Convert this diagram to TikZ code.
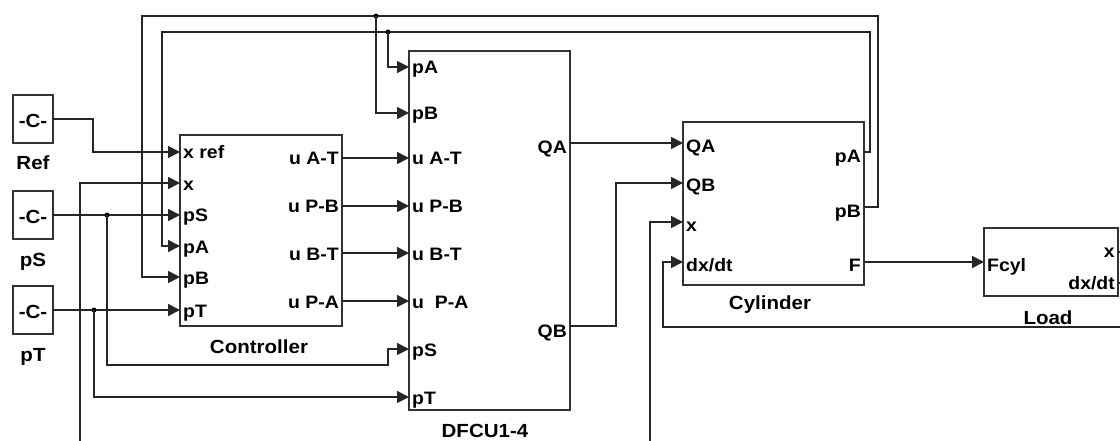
\documentclass[tikz,border=0pt]{standalone}
\usepackage{fontspec}
\setmainfont{Liberation Sans}[FakeStretch=1.08]
\usetikzlibrary{arrows.meta,calc}
\begin{document}
\begin{tikzpicture}[x=1pt,y=-1pt,
 blk/.style={draw=black!80, line width=1.9pt, inner sep=0, outer sep=0, rectangle},
 wire/.style={draw=black!85, line width=1.7pt, -{Triangle[length=12pt,width=12pt]}},
 plainwire/.style={draw=black!85, line width=1.7pt},
 pl/.style={font=\fontsize{18}{18}\bfseries\selectfont, inner sep=0, anchor=base west, text=black},
 pr/.style={font=\fontsize{18}{18}\bfseries\selectfont, inner sep=0, anchor=base east, text=black},
 bl/.style={font=\fontsize{19}{19}\bfseries\selectfont, inner sep=0, text=black},
 jdot/.style={circle, fill=black, inner sep=0, minimum size=5pt}
]
\useasboundingbox (0,0) rectangle (1120,441);

% ---------- blocks ----------
\node[blk, minimum width=40, minimum height=48] (ref) at (33,119) {};
\node[bl] (refc) at (33,121) {-C-};
\node[bl] (reflbl) at (33,163) {Ref};
\node[blk, minimum width=40, minimum height=48] (ps) at (33,215) {};
\node[bl] (psc) at (33,217) {-C-};
\node[bl] (pslbl) at (33,262) {pS};
\node[blk, minimum width=40, minimum height=48] (pt) at (33,310) {};
\node[bl] (ptc) at (33,312) {-C-};
\node[bl] (ptlbl) at (33,357) {pT};

\node[blk, minimum width=162, minimum height=191] (ctl) at (261,230.5) {};
\node[bl] (ctllbl) at (259,347) {Controller};
\node[blk, minimum width=161, minimum height=359] (dfcu) at (489.5,230.5) {};
\node[bl] (dfculbl) at (485,431) {DFCU1-4};
\node[blk, minimum width=181, minimum height=163] (cyl) at (773.5,203.5) {};
\node[bl] (cyllbl) at (770,305) {Cylinder};
\node[blk, minimum width=134, minimum height=68] (load) at (1051,262) {};
\node[bl] (loadlbl) at (1048,318) {Load};

% ---------- ports ----------
\coordinate (c-xref) at (180,152);
\coordinate (c-x) at (180,183);
\coordinate (c-pS) at (180,215);
\coordinate (c-pA) at (180,246);
\coordinate (c-pB) at (180,277);
\coordinate (c-pT) at (180,310);
\coordinate (c-uAT) at (342,158);
\coordinate (c-uPB) at (342,206);
\coordinate (c-uBT) at (342,253);
\coordinate (c-uPA) at (342,301);

\coordinate (d-pA) at (409,67);
\coordinate (d-pB) at (409,113);
\coordinate (d-uAT) at (409,158);
\coordinate (d-uPB) at (409,206);
\coordinate (d-uBT) at (409,253);
\coordinate (d-uPA) at (409,301);
\coordinate (d-pS) at (409,349);
\coordinate (d-pT) at (409,397);
\coordinate (d-QA) at (570,143);
\coordinate (d-QB) at (570,326);

\coordinate (y-QA) at (683,143);
\coordinate (y-QB) at (683,183);
\coordinate (y-x) at (683,222);
\coordinate (y-dx) at (683,262);
\coordinate (y-pA) at (864,152);
\coordinate (y-pB) at (864,207);
\coordinate (y-F) at (864,262);

\coordinate (l-F) at (984,262);
\coordinate (l-x) at (1118,252);
\coordinate (l-dx) at (1118,283);

\coordinate (xfb) at (80,441);
\coordinate (yxin) at (650,441);
\coordinate (dxin) at (1120,327);
\coordinate (lxo) at (1120,252);
\coordinate (ldxo) at (1120,283);

% ---------- port labels ----------
\node[pl] (lc1) at ($(c-xref)+(3,7)$) {x ref};
\node[pl] (lc2) at ($(c-x)+(3,8)$) {x};
\node[pl] (lc3) at ($(c-pS)+(3,7)$) {pS};
\node[pl] (lc4) at ($(c-pA)+(3,7)$) {pA};
\node[pl] (lc5) at ($(c-pB)+(3,7)$) {pB};
\node[pl] (lc6) at ($(c-pT)+(3,7)$) {pT};
\node[pr] (rc1) at ($(c-uAT)+(-3,7)$) {u A-T};
\node[pr] (rc2) at ($(c-uPB)+(-3,7)$) {u P-B};
\node[pr] (rc3) at ($(c-uBT)+(-3,7)$) {u B-T};
\node[pr] (rc4) at ($(c-uPA)+(-3,7)$) {u P-A};

\node[pl] (ld1) at ($(d-pA)+(3,7)$) {pA};
\node[pl] (ld2) at ($(d-pB)+(3,7)$) {pB};
\node[pl] (ld3) at ($(d-uAT)+(3,7)$) {u A-T};
\node[pl] (ld4) at ($(d-uPB)+(3,7)$) {u P-B};
\node[pl] (ld5) at ($(d-uBT)+(3,7)$) {u B-T};
\node[pl] (ld6) at ($(d-uPA)+(3,7)$) {u\ \ P-A};
\node[pl] (ld7) at ($(d-pS)+(3,7)$) {pS};
\node[pl] (ld8) at ($(d-pT)+(3,7)$) {pT};
\node[pr] (rd1) at ($(d-QA)+(-3,11)$) {QA};
\node[pr] (rd2) at ($(d-QB)+(-3,11)$) {QB};

\node[pl] (ly1) at ($(y-QA)+(3,10)$) {QA};
\node[pl] (ly2) at ($(y-QB)+(3,9)$) {QB};
\node[pl] (ly3) at ($(y-x)+(3,10)$) {x};
\node[pl] (ly4) at ($(y-dx)+(3,9)$) {dx/dt};
\node[pr] (ry1) at ($(y-pA)+(-3,11)$) {pA};
\node[pr] (ry2) at ($(y-pB)+(-3,11)$) {pB};
\node[pr] (ry3) at ($(y-F)+(-3,9)$) {F};

\node[pl] (ll1) at ($(l-F)+(3,9)$) {Fcyl};
\node[pr] (rl1) at ($(l-x)+(-3,6)$) {x};
\node[pr] (rl2) at ($(l-dx)+(-3,6)$) {dx/dt};

% ---------- connectors ----------
\draw[wire] (ref.east) -- ($(ref.east)+(40,0)$) |- (c-xref);
\draw[wire] (ps.east) -- (c-pS);
\draw[wire] (pt.east) -- (c-pT);
\node[jdot] (jps) at (107,215) {};
\node[jdot] (jpt) at (94,310) {};
\draw[wire] (jps.center) -- (107,365) -- (388,365) |- (d-pS);
\draw[wire] (jpt.center) |- (d-pT);
\draw[wire] (xfb) |- (c-x);

\draw[wire] (c-uAT) -- (d-uAT);
\draw[wire] (c-uPB) -- (d-uPB);
\draw[wire] (c-uBT) -- (d-uBT);
\draw[wire] (c-uPA) -- (d-uPA);

\draw[wire] (d-QA) -- (y-QA);
\draw[wire] (d-QB) -- (616,326) |- (y-QB);
\draw[wire] (yxin) |- (y-x);
\draw[wire] (dxin) -- (663,327) |- (y-dx);

\draw[wire] (y-pA) -- (870,152) -- (870,32) -- (162,32) |- (c-pA);
\draw[wire] (y-pB) -- (878,207) -- (878,16) -- (142,16) |- (c-pB);
\node[jdot] (jpa) at (388,32) {};
\node[jdot] (jpb) at (376,16) {};
\draw[wire] (jpa.center) |- (d-pA);
\draw[wire] (jpb.center) |- (d-pB);

\draw[wire] (y-F) -- (l-F);
\draw[plainwire] (l-x) -- (lxo);
\draw[plainwire] (l-dx) -- (ldxo);
\end{tikzpicture}
\end{document}
